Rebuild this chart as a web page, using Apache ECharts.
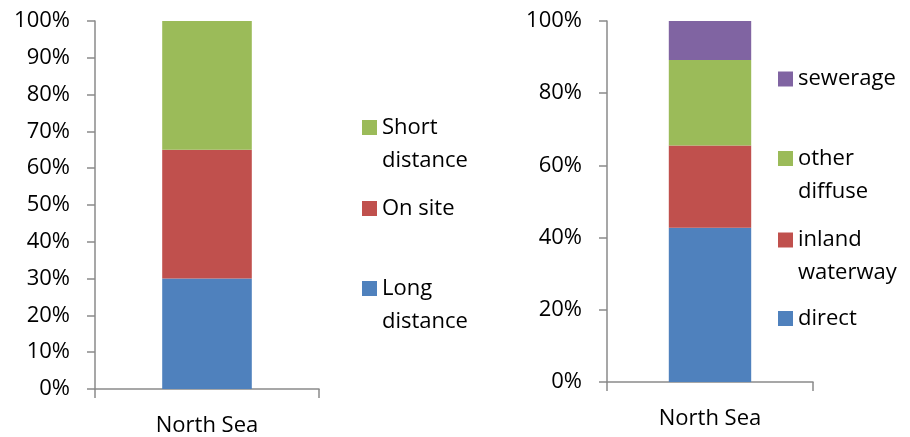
<!DOCTYPE html>
<html>
<head>
<meta charset="utf-8">
<script src="https://cdn.jsdelivr.net/npm/echarts@6/dist/echarts.min.js"></script>
<style>
  html, body { margin: 0; padding: 0; background: #fff; }
  #chart { width: 910px; height: 437px; }
</style>
</head>
<body>
<div id="chart"></div>
<script>
// Categories (one bar per panel)
const categories = ['North Sea'];

// Left panel: share by transport distance (%)
const leftNames = ['Long\ndistance', 'On site', 'Short\ndistance'];
const longDistance = [30];
const onSite = [35];
const shortDistance = [35];

// Right panel: share by pathway (%)
const rightNames = ['direct', 'inland\nwaterway', 'other\ndiffuse', 'sewerage'];
const direct = [42.7];
const inlandWaterway = [22.8];
const otherDiffuse = [23.7];
const sewerage = [10.8];

// Tick settings
const leftTickStep = 10;
const rightTickStep = 20;

const colors = {
  blue: '#4F81BD',
  red: '#C0504D',
  green: '#9BBB59',
  purple: '#8064A2'
};

const FONT = '"Open Sans", "Liberation Sans", sans-serif';
const axisGray = '#8a8a8a';
const LINE_H = 33;

function yAxisCfg(gridIndex, step) {
  return {
    type: 'value', gridIndex, min: 0, max: 100, interval: step,
    axisLine: { show: true, lineStyle: { color: axisGray, width: 1.5 } },
    axisTick: { show: true, length: 8, lineStyle: { color: axisGray, width: 1.5 } },
    splitLine: { show: false },
    axisLabel: { formatter: '{value}%', color: '#000', fontFamily: FONT, fontSize: 22, margin: 25 }
  };
}
function xAxisCfg(gridIndex) {
  return {
    type: 'category', gridIndex, data: categories,
    axisLine: { show: true, lineStyle: { color: axisGray, width: 1.5 } },
    axisTick: { show: true, length: 9, lineStyle: { color: axisGray, width: 1.5 } },
    axisLabel: { color: '#000', fontFamily: FONT, fontSize: 22, margin: 26 }
  };
}
function bar(name, data, color, idx, stack) {
  return {
    name, type: 'bar', stack, data, xAxisIndex: idx, yAxisIndex: idx,
    barWidth: '40%', itemStyle: { color }, emphasis: { disabled: true }
  };
}
// One legend entry per component so each can sit at its own height.
// A two-line name gets an empty leading line, so its first line is the
// middle of three and lines up with the swatch.
function legendItem(name, left, iconCenterY) {
  const twoLine = name.indexOf('\n') >= 0;
  const half = twoLine ? LINE_H * 1.5 : LINE_H / 2;
  return {
    data: [name], orient: 'vertical', left, top: iconCenterY - half,
    itemWidth: 15, itemHeight: 15, icon: 'rect', padding: 0,
    selectedMode: false,
    formatter: n => (twoLine ? '\n' + n : n),
    textStyle: { color: '#000', fontFamily: FONT, fontSize: 22, lineHeight: LINE_H }
  };
}

const chart = echarts.init(document.getElementById('chart'), null, { renderer: 'canvas' });
chart.setOption({
  animation: false,
  grid: [
    { left: 95, top: 21, width: 224, height: 368 },
    { left: 607, top: 21, width: 206, height: 361 }
  ],
  xAxis: [xAxisCfg(0), xAxisCfg(1)],
  yAxis: [yAxisCfg(0, leftTickStep), yAxisCfg(1, rightTickStep)],
  legend: [
    legendItem(leftNames[2], 362, 127.5),
    legendItem(leftNames[1], 362, 208.5),
    legendItem(leftNames[0], 362, 288.5),
    legendItem(rightNames[3], 778, 79),
    legendItem(rightNames[2], 778, 158.5),
    legendItem(rightNames[1], 778, 240),
    legendItem(rightNames[0], 778, 318.5)
  ],
  series: [
    bar(leftNames[0], longDistance, colors.blue, 0, 'left'),
    bar(leftNames[1], onSite, colors.red, 0, 'left'),
    bar(leftNames[2], shortDistance, colors.green, 0, 'left'),
    bar(rightNames[0], direct, colors.blue, 1, 'right'),
    bar(rightNames[1], inlandWaterway, colors.red, 1, 'right'),
    bar(rightNames[2], otherDiffuse, colors.green, 1, 'right'),
    bar(rightNames[3], sewerage, colors.purple, 1, 'right')
  ]
});
</script>
</body>
</html>
